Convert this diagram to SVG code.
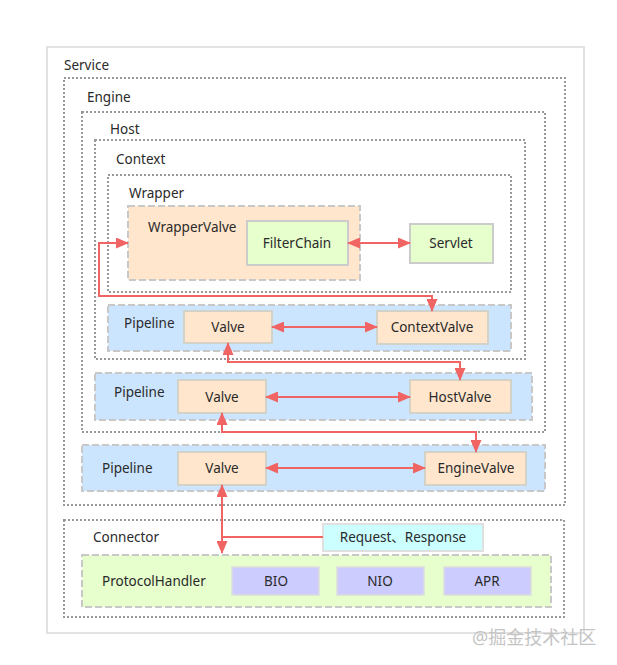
<svg xmlns="http://www.w3.org/2000/svg" width="617" height="665" viewBox="0 0 617 665">
<style>
text{font-family:"Noto Sans","Noto Sans CJK SC",sans-serif;font-size:13.5px;fill:#2a2a2a;dominant-baseline:central}
.c{text-anchor:middle}
.dot{fill:none;stroke:#999;stroke-width:2;stroke-dasharray:2 2}
.dash{stroke:#c8c8c8;stroke-width:2;stroke-dasharray:7 3}
.pipe{fill:#cce5ff}
.peach{fill:#ffe6cc;stroke:#d2d2c8;stroke-width:2}
.green{fill:#e6ffcc;stroke:#cccccc;stroke-width:2}
.proto{fill:#ccccff;stroke:#dddddd;stroke-width:1.5}
.link{fill:none;stroke:#f06464;stroke-width:2}
</style>
<defs>
<marker id="ah" viewBox="0 0 13 11" refX="12" refY="5.5" markerWidth="13" markerHeight="11" markerUnits="userSpaceOnUse" orient="auto-start-reverse">
<path d="M0,0 L13,5.5 L0,11 z" fill="#f06464"/>
</marker>
</defs>
<rect width="617" height="665" fill="#fff"/>
<g id="service">
<rect x="47" y="47" width="537" height="586" fill="#fff" stroke="#e2e2e2" stroke-width="2"/>
<text x="64" y="65">Service</text>
</g>
<g id="engine">
<rect class="dot" x="64" y="78" width="501" height="427"/>
<text x="87" y="97">Engine</text>
</g>
<g id="host">
<rect class="dot" x="82" y="112" width="463" height="320"/>
<text x="110" y="129">Host</text>
</g>
<g id="context">
<rect class="dot" x="95" y="140" width="430" height="219"/>
<text x="116" y="159">Context</text>
</g>
<g id="wrapper">
<rect class="dot" x="108" y="175" width="403" height="117"/>
<text x="129" y="193">Wrapper</text>
</g>
<g id="wrapperValve">
<rect class="peach dash" x="128" y="206" width="232" height="74" style="stroke:#c8c8c8"/>
<text x="148" y="227">WrapperValve</text>
</g>
<g id="filterChain">
<rect class="green" x="247" y="221" width="101" height="44"/>
<text class="c" x="297" y="243">FilterChain</text>
</g>
<g id="servlet">
<rect class="green" x="410" y="224" width="83" height="39"/>
<text class="c" x="451" y="243">Servlet</text>
</g>
<g id="contextPipeline">
<rect class="pipe dash" x="108" y="305" width="403" height="46"/>
<text x="124" y="323">Pipeline</text>
</g>
<g id="contextValveBasic">
<rect class="peach" x="184" y="311" width="88" height="32"/>
<text class="c" x="228" y="327">Valve</text>
</g>
<g id="contextValve">
<rect class="peach" x="377" y="311" width="111" height="33"/>
<text class="c" x="432" y="327">ContextValve</text>
</g>
<g id="hostPipeline">
<rect class="pipe dash" x="95" y="373" width="437" height="47"/>
<text x="114" y="392">Pipeline</text>
</g>
<g id="hostValveBasic">
<rect class="peach" x="178" y="380" width="88" height="33"/>
<text class="c" x="222" y="397">Valve</text>
</g>
<g id="hostValve">
<rect class="peach" x="410" y="380" width="101" height="33"/>
<text class="c" x="460" y="397">HostValve</text>
</g>
<g id="enginePipeline">
<rect class="pipe dash" x="82" y="445" width="463" height="46"/>
<text x="102" y="468">Pipeline</text>
</g>
<g id="engineValveBasic">
<rect class="peach" x="178" y="452" width="88" height="33"/>
<text class="c" x="222" y="468">Valve</text>
</g>
<g id="engineValve">
<rect class="peach" x="425" y="452" width="101" height="33"/>
<text class="c" x="476" y="468">EngineValve</text>
</g>
<g id="connector">
<rect class="dot" x="64" y="520" width="500" height="97"/>
<text x="93" y="537">Connector</text>
</g>
<g id="requestResponse">
<rect x="323" y="524" width="160" height="27" fill="#ccffff" stroke="#e0e0e0" stroke-width="2"/>
<text class="c" x="403" y="537">Request、Response</text>
</g>
<g id="protocolHandler">
<rect class="dash" x="82" y="555" width="469" height="52" fill="#e6ffcc"/>
<text x="102" y="581">ProtocolHandler</text>
</g>
<g id="bio">
<rect class="proto" x="232" y="567" width="87" height="28"/>
<text class="c" x="276" y="581">BIO</text>
</g>
<g id="nio">
<rect class="proto" x="337" y="567" width="87" height="28"/>
<text class="c" x="380" y="581">NIO</text>
</g>
<g id="apr">
<rect class="proto" x="444" y="567" width="87" height="28"/>
<text class="c" x="487" y="581">APR</text>
</g>
<g id="connectors">
<path class="link" d="M348,243 L410,243" marker-start="url(#ah)" marker-end="url(#ah)"/>
<path class="link" d="M128,243 L99,243 L99,296 L432,296 L432,311" marker-start="url(#ah)" marker-end="url(#ah)"/>
<path class="link" d="M272,327 L377,327" marker-start="url(#ah)" marker-end="url(#ah)"/>
<path class="link" d="M228,343 L228,362 L460,362 L460,380" marker-start="url(#ah)" marker-end="url(#ah)"/>
<path class="link" d="M266,397 L410,397" marker-start="url(#ah)" marker-end="url(#ah)"/>
<path class="link" d="M222,413 L222,432 L476,432 L476,452" marker-start="url(#ah)" marker-end="url(#ah)"/>
<path class="link" d="M266,468 L425,468" marker-start="url(#ah)" marker-end="url(#ah)"/>
<path class="link" d="M222,485 L222,553" marker-start="url(#ah)" marker-end="url(#ah)"/>
<path class="link" d="M323,537 L222,537"/>
</g>
<text x="472" y="637" style="font-size:18px;fill:#c4c4c4">@掘金技术社区</text>
</svg>
